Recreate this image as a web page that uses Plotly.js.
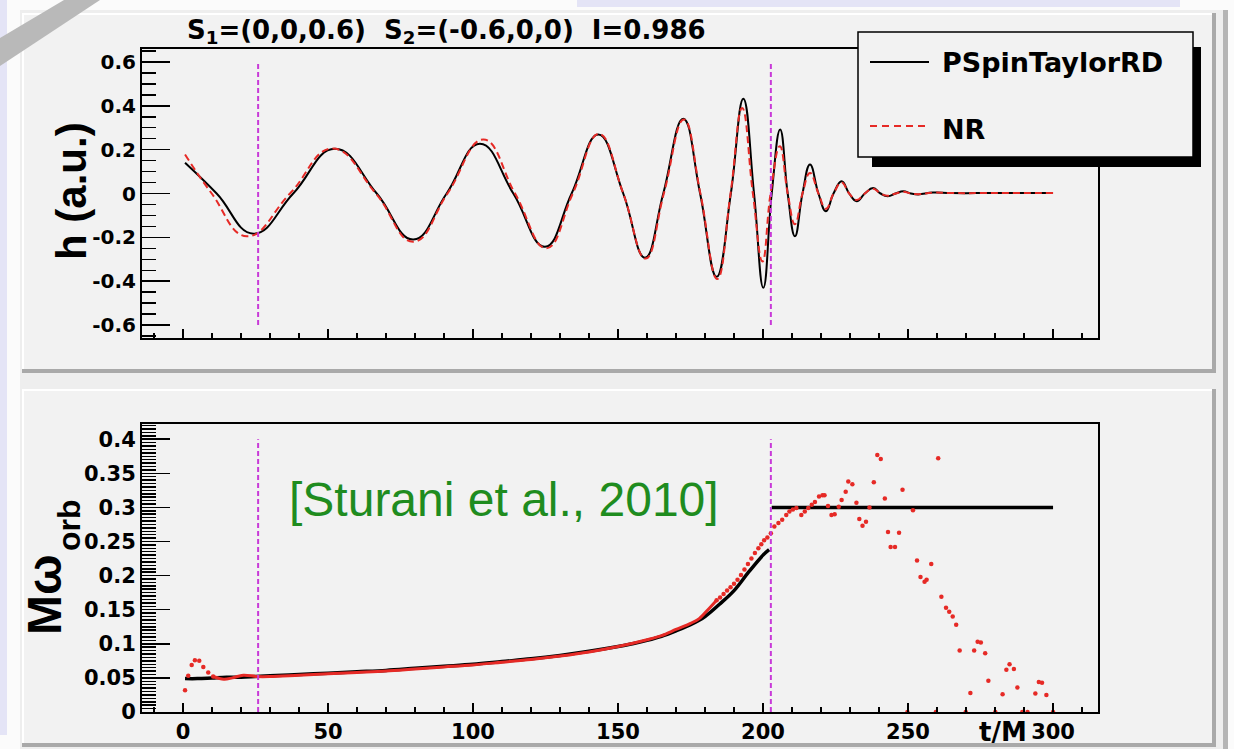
<!DOCTYPE html>
<html><head><meta charset="utf-8">
<script src="https://cdn.plot.ly/plotly-3.0.1.min.js"></script>
<style>html,body{margin:0;padding:0;background:#fbfbfb;}#chart{width:1234px;height:749px;}</style>
</head><body><div id="chart"></div>
<script>
// ---------------- data ----------------
// top panel: strain h(t) (extrema and zero crossings)
const hTimeModel = [0.7, 11.6, 24.3, 38.0, 52.4, 66.8, 79.4, 90.9, 102.4, 113.9, 124.8, 134.0, 143.2, 151.8, 159.3, 165.6, 172.5, 178.3, 184.0, 188.9, 193.2, 196.9, 200.1, 203.0, 205.9, 208.5, 211.0, 213.6, 216.2, 219.1, 221.7, 224.3, 227.1, 229.7, 232.3, 235.1, 238.0, 240.5, 243.0, 245.7, 248.4, 251.0, 253.5, 258.6, 265, 280, 300];
const hModel = [0.140, 0.0, -0.183, 0.0, 0.204, 0.0, -0.210, 0.0, 0.227, 0.0, -0.243, 0.0, 0.269, 0.0, -0.293, 0.0, 0.341, 0.0, -0.380, 0.0, 0.432, 0.0, -0.430, 0.0, 0.292, 0.0, -0.195, 0.0, 0.132, 0.0, -0.081, 0.0, 0.056, 0.0, -0.035, 0.0, 0.025, 0.0, -0.012, 0.0, 0.010, 0.0, -0.004, 0.004, 0.002, 0.002, 0.002];
const hTimeNR = [0.7, 9.9, 22.0, 36.9, 51.5, 66.5, 79.4, 91.2, 103.6, 114.5, 125.3, 134.4, 143.4, 151.8, 159.5, 165.8, 172.7, 178.4, 184.2, 188.8, 192.8, 196.5, 199.8, 202.6, 205.8, 208.5, 211.0, 213.6, 216.2, 219.1, 221.7, 224.3, 227.1, 229.7, 232.3, 235.1, 238.0, 240.5, 243.0, 245.7, 248.4, 251.0, 253.5, 258.6, 265, 280, 300];
const hNR = [0.178, 0.0, -0.195, 0.0, 0.205, 0.0, -0.220, 0.0, 0.246, 0.0, -0.250, 0.0, 0.272, 0.0, -0.297, 0.0, 0.338, 0.0, -0.390, 0.0, 0.390, 0.0, -0.310, 0.0, 0.216, 0.0, -0.140, 0.0, 0.094, 0.0, -0.070, 0.0, 0.050, 0.0, -0.030, 0.0, 0.022, 0.0, -0.010, 0.0, 0.008, 0.0, -0.003, 0.004, 0.002, 0.002, 0.002];

// bottom panel: orbital frequency M*omega_orb
const wTimeModel = [0.7, 5, 10, 15, 20, 25, 30, 40, 50, 60, 70, 80, 90, 100, 110, 120, 130, 140, 150, 155, 160, 165, 170, 175, 180, 185, 190, 195, 200, 202.1];
const wModel = [0.049, 0.049, 0.050, 0.051, 0.051, 0.052, 0.053, 0.055, 0.057, 0.059, 0.061, 0.064, 0.067, 0.070, 0.074, 0.078, 0.083, 0.089, 0.096, 0.100, 0.105, 0.111, 0.119, 0.128, 0.140, 0.158, 0.178, 0.205, 0.230, 0.238];
const wTimeModelRD = [203, 300];
const wModelRD = [0.3, 0.3];
const wTimeNRBand = [10.4, 14.1, 17.0, 20.8, 25.6, 30, 40, 50, 60, 70, 80, 90, 100, 110, 120, 130, 140, 150, 160, 165, 170, 175, 178, 181, 184];
const wNRBand = [0.052, 0.048, 0.050, 0.054, 0.052, 0.052, 0.054, 0.056, 0.058, 0.060, 0.063, 0.066, 0.069, 0.073, 0.077, 0.082, 0.088, 0.096, 0.106, 0.112, 0.121, 0.130, 0.137, 0.150, 0.164];
const wTimeNRDots = [0.7, 1.8, 3.0, 4.1, 5.6, 7.0, 8.7, 10.4,
  184.0, 185.2, 186.4, 187.6, 188.8, 190.0, 191.2, 192.4, 193.6, 194.8, 196.0, 197.2, 198.4, 199.4, 200.4, 201.5,
  202.7, 203.9, 205.3, 206.6, 208.0, 209.1, 210.3, 211.5, 213.2, 214.4, 215.6, 216.8, 217.9, 219.3, 220.5, 221.2,
  222.4, 223.6, 224.7, 226.1, 227.1, 228.5, 229.4, 230.8, 232.2, 233.2, 234.3, 235.5, 236.7, 238.2, 239.4, 240.6,
  242.0, 243.1, 244.0, 245.5, 246.9, 248.1, 249.8, 251.7, 253.1, 254.3, 255.7, 256.4, 258.0, 259.6, 260.4, 261.5,
  263.1, 264.2, 265.4, 266.6, 267.8, 269.9, 271.5, 272.8, 274.0, 275.1, 276.6, 277.7, 280.1, 282.6, 283.9, 285.0,
  286.5, 287.7, 289.4, 291.2, 293.9, 295.1, 296.2, 297.7, 300.0];
const wNRDots = [0.032, 0.053, 0.069, 0.076, 0.075, 0.066, 0.058, 0.052,
  0.164, 0.168, 0.173, 0.178, 0.183, 0.188, 0.194, 0.201, 0.209, 0.217, 0.225, 0.233, 0.240, 0.246, 0.252, 0.256,
  0.262, 0.272, 0.277, 0.282, 0.289, 0.294, 0.297, 0.299, 0.289, 0.294, 0.299, 0.304, 0.308, 0.316, 0.318, 0.318,
  0.302, 0.289, 0.290, 0.301, 0.311, 0.323, 0.338, 0.334, 0.307, 0.283, 0.273, 0.279, 0.300, 0.337, 0.377, 0.371,
  0.313, 0.264, 0.242, 0.242, 0.263, 0.326, 0.0, 0.296, 0.222, 0.198, 0.191, 0.194, 0.217, 0.0, 0.372, 0.169,
  0.153, 0.147, 0.140, 0.128, 0.090, 0.0, 0.028, 0.090, 0.103, 0.102, 0.086, 0.046, 0.0, 0.026, 0.062, 0.070,
  0.063, 0.036, 0.0, 0.0, 0.027, 0.044, 0.043, 0.025, 0.0];

// vertical reference lines (t/M) and their extents
const markerTimes = [25.9, 202.7];
const markerSpanTop = [-0.6, 0.6];
const markerSpanBottom = [0, 0.4];

// tick labels
const tTickVals = [0, 50, 100, 150, 200, 250, 300];
const tTickText = ['0', '50', '100', '150', '200', '250', '300'];
const hTickVals = [-0.6, -0.4, -0.2, 0, 0.2, 0.4, 0.6];
const hTickText = ['-0.6', '-0.4', '-0.2', '0', '0.2', '0.4', '0.6'];
const wTickVals = [0, 0.05, 0.1, 0.15, 0.2, 0.25, 0.3, 0.35, 0.4];
const wTickText = ['0', '0.05', '0.1', '0.15', '0.2', '0.25', '0.3', '0.35', '0.4'];

const seriesNames = ['PSpinTaylorRD', 'NR'];
const titleText = 'S<sub>1</sub>=(0,0,0.6)\u00a0\u00a0S<sub>2</sub>=(-0.6,0,0)\u00a0\u00a0I=0.986';

// ---------------- layout helpers ----------------
const W = 1234, H = 749;
const px = x => x / W;
const py = y => 1 - y / H;
const RED = '#e62a26', MAG = '#c83ad8';
const rootFont = (size) => ({family: 'DejaVu Sans', size: size, color: '#000', weight: 'bold'});

function markerLine(times, span) {
  const x = [], y = [];
  times.forEach((t, i) => { if (i) { x.push(null); y.push(null); } x.push(t, t); y.push(span[0], span[1]); });
  return {x, y};
}
const mTop = markerLine(markerTimes, markerSpanTop);
const mBot = markerLine(markerTimes, markerSpanBottom);

const traces = [
  {x: hTimeModel, y: hModel, xaxis: 'x', yaxis: 'y', mode: 'lines', name: seriesNames[0],
   line: {color: '#000', width: 2, shape: 'spline', smoothing: 1.3}},
  {x: hTimeNR, y: hNR, xaxis: 'x', yaxis: 'y', mode: 'lines', name: seriesNames[1],
   line: {color: RED, width: 2, dash: '7px,4px', shape: 'spline', smoothing: 1.3}},
  {x: mTop.x, y: mTop.y, xaxis: 'x', yaxis: 'y', mode: 'lines',
   line: {color: MAG, width: 2, dash: '5px,3px'}},

  {x: wTimeModel, y: wModel, xaxis: 'x2', yaxis: 'y2', mode: 'lines',
   line: {color: '#000', width: 3.5, shape: 'spline'}},
  {x: wTimeModelRD, y: wModelRD, xaxis: 'x2', yaxis: 'y2', mode: 'lines',
   line: {color: '#000', width: 3.5}},
  {x: wTimeNRBand, y: wNRBand, xaxis: 'x2', yaxis: 'y2', mode: 'lines',
   line: {color: RED, width: 3, shape: 'spline'}},
  {x: wTimeNRDots, y: wNRDots, xaxis: 'x2', yaxis: 'y2', mode: 'markers',
   marker: {color: RED, size: 4.5}},
  {x: mBot.x, y: mBot.y, xaxis: 'x2', yaxis: 'y2', mode: 'lines',
   line: {color: MAG, width: 2, dash: '5px,3px'}}
];
traces.forEach(t => { t.hoverinfo = 'skip'; t.showlegend = false; });

const xDomain = [px(142), px(1098)];
const tRange = [-14.14, 315.5];
const commonAxis = {
  showline: true, mirror: true, linecolor: '#000', linewidth: 2,
  ticks: 'inside', tickcolor: '#000', tickwidth: 1.5,
  showgrid: false, zeroline: false, automargin: false, fixedrange: true
};

function rect(x0, y0, x1, y1, fill, layer, line) {
  return {type: 'rect', xref: 'paper', yref: 'paper', x0: px(x0), x1: px(x1), y0: py(y0), y1: py(y1),
          fillcolor: fill, line: line || {width: 0}, layer: layer || 'below'};
}
function seg(x0, y0, x1, y1, color, width, dash) {
  return {type: 'line', xref: 'paper', yref: 'paper', x0: px(x0), x1: px(x1), y0: py(y0), y1: py(y1),
          line: {color, width, dash: dash || 'solid'}, layer: 'above'};
}
function pad(y0, y1) {
  return [
    rect(22, y0, 1216, y1, '#f2f2f2'),
    rect(22, y0, 1216, y0 + 2, '#ffffff'),
    rect(22, y0, 24, y1, '#ffffff'),
    rect(22, y1 - 4, 1216, y1, '#a9a9a9'),
    rect(1212, y0, 1216, y1, '#a9a9a9')
  ];
}

const shapes = [
  rect(0, 0, 7, 735, '#e4e4f6'),
  rect(577, 0, 1180, 7, '#e4e4f6'),
  rect(20, 10, 1228, 749, '#eeeeee'),
  rect(1223, 10, 1228, 749, '#b5b5b5'),
  ...pad(13, 373),
  ...pad(389, 747),
  // legend
  rect(872, 47, 1201, 167, '#000000', 'above'),
  rect(858, 32, 1193, 157, '#f2f2f2', 'above', {color: '#000', width: 1.5}),
  seg(870, 62, 929, 62, '#000', 2),
  seg(870, 126, 929, 126, RED, 2, '7px,5px'),
  // decorative diagonal band
  {type: 'path', xref: 'paper', yref: 'paper', layer: 'above',
   path: `M ${px(0)},${py(38)} L ${px(64)},${py(0)} L ${px(100)},${py(0)} L ${px(0)},${py(66)} Z`,
   fillcolor: '#b9b9b9', line: {width: 0}}
];

function ann(text, x, y, xanchor, yanchor, font, extra) {
  return Object.assign({text, x: px(x), y: py(y), xref: 'paper', yref: 'paper', xanchor, yanchor,
    showarrow: false, font, borderpad: 0}, extra || {});
}

const annotations = [
  ann(titleText, 186, 14, 'left', 'top', rootFont(26)),
  ann(seriesNames[0], 941, 46, 'left', 'top', rootFont(27)),
  ann(seriesNames[1], 941, 113, 'left', 'top', rootFont(27)),
  ann('t/M', 1028, 716, 'right', 'top', rootFont(26)),
  ann('[Sturani et al., 2010]', 288, 472, 'left', 'top',
      {family: 'Liberation Sans', size: 48, color: '#1f8c1f'}),
  ann('h (a.u.)', 72, 191, 'center', 'middle',
      {family: 'Liberation Sans', size: 42, color: '#000', weight: 'bold'}, {textangle: -90}),
  ann('M\u03c9', 44, 595, 'center', 'middle',
      {family: 'Liberation Sans', size: 48, color: '#000', weight: 'bold'}, {textangle: -90}),
  ann('orb', 69, 525, 'center', 'middle',
      {family: 'Liberation Sans', size: 32, color: '#000', weight: 'bold'}, {textangle: -90})
];

const layout = {
  width: W, height: H,
  margin: {l: 0, r: 0, t: 0, b: 0, pad: 0},
  paper_bgcolor: '#fbfbfb', plot_bgcolor: 'rgba(0,0,0,0)',
  showlegend: false,
  xaxis: Object.assign({}, commonAxis, {domain: xDomain, range: tRange, anchor: 'y',
    tickmode: 'array', tickvals: tTickVals, ticktext: tTickText, showticklabels: false, ticklen: 9,
    minor: {ticks: 'inside', ticklen: 5, tickwidth: 1.5, tickcolor: '#000', dtick: 10, tick0: 0, showgrid: false}}),
  yaxis: Object.assign({}, commonAxis, {domain: [py(338), py(49)], range: [-0.659, 0.659], anchor: 'x',
    tickmode: 'array', tickvals: hTickVals, ticktext: hTickText, ticklen: 28, tickfont: rootFont(20),
    minor: {ticks: 'inside', ticklen: 14, tickwidth: 1.5, tickcolor: '#000', dtick: 0.05, tick0: 0, showgrid: false}}),
  xaxis2: Object.assign({}, commonAxis, {domain: xDomain, range: tRange, anchor: 'y2',
    tickmode: 'array', tickvals: tTickVals, ticktext: tTickText, ticklen: 9, tickfont: rootFont(21),
    minor: {ticks: 'inside', ticklen: 5, tickwidth: 1.5, tickcolor: '#000', dtick: 10, tick0: 0, showgrid: false}}),
  yaxis2: Object.assign({}, commonAxis, {domain: [py(712), py(424)], range: [0, 0.4223], anchor: 'x2',
    tickmode: 'array', tickvals: wTickVals, ticktext: wTickText, ticklen: 28, tickfont: rootFont(21),
    minor: {ticks: 'inside', ticklen: 14, tickwidth: 1.5, tickcolor: '#000', dtick: 0.005, tick0: 0, showgrid: false}}),
  shapes, annotations
};

Plotly.newPlot('chart', traces, layout, {displayModeBar: false, staticPlot: true});
</script></body></html>
